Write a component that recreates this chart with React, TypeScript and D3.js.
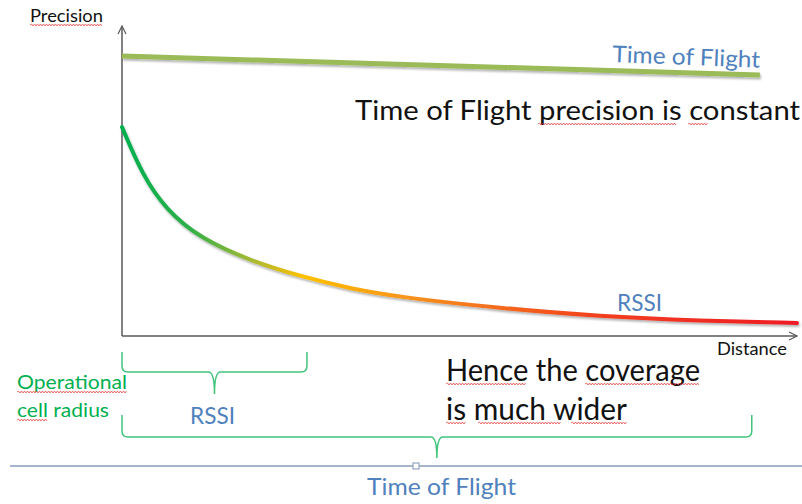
import React from "react";
import * as d3 from "d3";

// ---- data ----
const rssiDistance = [0, 3, 6.5, 11.6, 19, 26.4, 33.8, 41.2, 56, 70.8, 85.6, 100];
const rssiPrecision = [67.4, 52, 40.8, 31.5, 24.3, 19.3, 15.3, 12.5, 9, 6.3, 4.9, 4.2];
const tofDistance = [0, 94.5];
const tofPrecision = [90.3, 84.2];
const braceLabels = ["RSSI", "Time of Flight"];
const braceEnds = [27.4, 93.3];
const axisLabels = ["Precision", "Distance"];
const gradientColors = ["#00B050", "#2EAF48", "#A5B935", "#FFC000", "#F7941D", "#F2401E", "#EE1C25"];
const gradientStops = [0, 0.1, 0.19, 0.27, 0.42, 0.7, 1];

const W = 802;
const H = 504;
const FONT = "Lato, 'Open Sans', sans-serif";
const BLUE = "#4F81BD";
const GREEN = "#00B050";

function brace(x0: number, x1: number, yTop: number, yH: number, yTip: number, r = 6) {
  const xm = (x0 + x1) / 2;
  return `M${x0},${yTop} L${x0},${yH - r} Q${x0},${yH} ${x0 + r},${yH} L${xm - r},${yH} Q${xm},${yH} ${xm},${yTip} Q${xm},${yH} ${xm + r},${yH} L${x1 - r},${yH} Q${x1},${yH} ${x1},${yH - r} L${x1},${yTop}`;
}

function squiggle(x0: number, x1: number, y: number) {
  let d = `M${x0},${y}`;
  let up = true;
  for (let x = x0 + 1.5; x <= x1; x += 1.5) {
    d += ` L${x},${y + (up ? -1 : 1)}`;
    up = !up;
  }
  return d;
}

export default function App() {
  const x = d3.scaleLinear().domain([0, 100]).range([122, 797]);
  const y = d3.scaleLinear().domain([0, 100]).range([336, 26]);

  const rssiLine = d3
    .line<number>()
    .x((_, i) => x(rssiDistance[i]))
    .y((d) => y(d))
    .curve(d3.curveBasis)(rssiPrecision) as string;

  const tofLine = d3
    .line<number>()
    .x((_, i) => x(tofDistance[i]))
    .y((d) => y(d))(tofPrecision) as string;

  const axisColor = "#595959";
  const squiggles: [number, number, number][] = [
    [30, 102, 25],
    [538, 676, 124],
    [688, 708, 124],
    [446, 526, 384],
    [585, 700, 384],
    [446, 466, 423],
    [478, 561, 423],
    [571, 627, 423],
    [17, 127, 392],
    [17, 48, 420],
  ];

  const t = (props: any, s: string) => (
    <text fontFamily={FONT} lengthAdjust="spacingAndGlyphs" {...props}>{s}</text>
  );

  return (
    <svg width={W} height={H} style={{ position: "absolute", left: 0, top: 0, background: "#fff" }}>
      <defs>
        <linearGradient id="rssiGrad" gradientUnits="userSpaceOnUse" x1={x(0)} x2={x(100)} y1={0} y2={0}>
          {gradientStops.map((s, i) => (
            <stop key={i} offset={s} stopColor={gradientColors[i]} />
          ))}
        </linearGradient>
        <filter id="shadow" x="-5%" y="-20%" width="110%" height="160%">
          <feDropShadow dx="1" dy="2" stdDeviation="1.2" floodColor="#000" floodOpacity="0.3" />
        </filter>
        <marker id="arrow" viewBox="0 0 10 10" refX="9" refY="5" markerWidth="10" markerHeight="10" orient="auto" markerUnits="userSpaceOnUse">
          <path d="M1,1 L9,5 L1,9" fill="none" stroke={axisColor} strokeWidth={1.2} />
        </marker>
      </defs>

      {/* axes */}
      <line x1={x(0)} y1={y(0)} x2={x(0)} y2={y(100)} stroke={axisColor} strokeWidth={1.5} markerEnd="url(#arrow)" />
      <line x1={x(0)} y1={y(0)} x2={x(100)} y2={y(0)} stroke={axisColor} strokeWidth={1.5} markerEnd="url(#arrow)" />
      {t({ x: 30, y: 22, fontSize: 17, fill: "#111", textLength: 73 }, axisLabels[0])}
      {t({ x: 717, y: 355, fontSize: 17, fill: "#111", textLength: 70 }, axisLabels[1])}

      {/* series */}
      <path d={tofLine} fill="none" stroke="#9BBB59" strokeWidth={5} filter="url(#shadow)" />
      <path d={rssiLine} fill="none" stroke="url(#rssiGrad)" strokeWidth={4} strokeLinecap="round" filter="url(#shadow)" />

      {t({ x: 612, y: 62, fontSize: 23, fill: BLUE, textLength: 148, transform: "rotate(2.2 612 62)" }, "Time of Flight")}
      {t({ x: 617, y: 311, fontSize: 23, fill: BLUE, textLength: 45 }, "RSSI")}

      {t({ x: 355, y: 120, fontSize: 27, fill: "#111", textLength: 445 }, "Time of Flight precision is constant")}

      {/* braces */}
      <path d={brace(x(0), x(braceEnds[0]), 352, 372, 394)} fill="none" stroke={GREEN} strokeOpacity={0.75} strokeWidth={1.5} />
      <path d={brace(x(0), x(braceEnds[1]), 415, 437, 458)} fill="none" stroke={GREEN} strokeOpacity={0.75} strokeWidth={1.5} />

      {t({ x: 17, y: 389, fontSize: 19, fill: GREEN, textLength: 110 }, "Operational")}
      {t({ x: 17, y: 417, fontSize: 19, fill: GREEN, textLength: 92 }, "cell radius")}
      {t({ x: 190, y: 424, fontSize: 23, fill: BLUE, textLength: 45 }, braceLabels[0])}

      {t({ x: 446, y: 381, fontSize: 30, fill: "#111", textLength: 254 }, "Hence the coverage")}
      {t({ x: 446, y: 420, fontSize: 30, fill: "#111", textLength: 181 }, "is much wider")}

      {/* bottom rule */}
      <line x1={10} y1={466} x2={W} y2={466} stroke="#A7B5CC" strokeWidth={2} />
      <rect x={413} y={463} width={6} height={6} fill="#fff" stroke="#8096B8" strokeWidth={1} />
      {t({ x: 367, y: 495, fontSize: 23, fill: BLUE, textLength: 149 }, braceLabels[1])}

      {/* spell-check squiggles */}
      {squiggles.map(([a, b, yy], i) => (
        <path key={i} d={squiggle(a, b, yy)} fill="none" stroke="#E03030" strokeWidth={0.7} />
      ))}
    </svg>
  );
}
